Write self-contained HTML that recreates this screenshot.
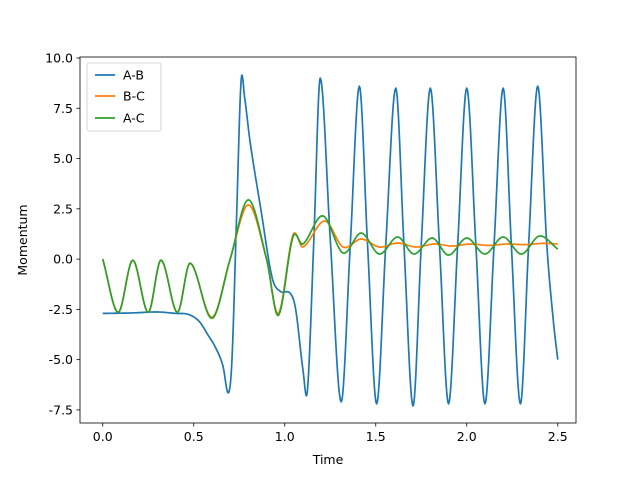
<!DOCTYPE html>
<html><head><meta charset="utf-8"><style>
html,body{margin:0;padding:0;background:#fff;}
svg text{font-family:"DejaVu Sans","Liberation Sans",sans-serif;font-size:12.5px;fill:#000;}
</style></head><body>
<svg id="s" width="640" height="476" viewBox="0 0 640 476" xmlns="http://www.w3.org/2000/svg">
<rect width="640" height="476" fill="#fff"/>
<g id="ticks"></g>
<g id="lines" fill="none" stroke-width="1.7" stroke-linejoin="round"></g>
<rect x="80" y="57" width="496" height="366" fill="none" stroke="#000" stroke-width="0.8"/>
<text x="328" y="464" text-anchor="middle">Time</text>
<text transform="translate(27,240) rotate(-90)" text-anchor="middle">Momentum</text>
<rect x="87" y="63" width="74" height="68" rx="2" fill="#fff" fill-opacity="0.8" stroke="#ccc" stroke-width="0.8"/>
<line x1="95" y1="75" x2="115" y2="75" stroke="#1f77b4" stroke-width="1.7"/>
<line x1="95" y1="96" x2="115" y2="96" stroke="#ff7f0e" stroke-width="1.7"/>
<line x1="95" y1="118" x2="115" y2="118" stroke="#2ca02c" stroke-width="1.7"/>
<text x="123" y="79.5">A-B</text>
<text x="123" y="100.5">B-C</text>
<text x="123" y="122.5">A-C</text>
</svg>
<script>
var X=function(t){return 102.75+t*182;},Y=function(v){return 259.1-v*20.11;};
var NS="http://www.w3.org/2000/svg";
var tk=document.getElementById("ticks");
function el(n,a,txt){var e=document.createElementNS(NS,n);for(var k in a)e.setAttribute(k,a[k]);if(txt)e.textContent=txt;tk.appendChild(e);}
for(var i=0;i<=5;i++){var t=i*0.5,x=X(t);el("line",{x1:x,y1:423,x2:x,y2:426.5,stroke:"#000","stroke-width":0.8});el("text",{x:x,y:441,"text-anchor":"middle"},t.toFixed(1));}
for(var v=-7.5;v<=10;v+=2.5){var y=Y(v);el("line",{x1:76.5,y1:y,x2:80,y2:y,stroke:"#000","stroke-width":0.8});el("text",{x:73,y:y+4.5,"text-anchor":"end"},v.toFixed(1));}
function path(p,col){
 var d="";var n=p.length;
 function m(i){var a=p[Math.max(0,i-1)],b=p[Math.min(n-1,i+1)];return (b[1]-a[1])/(b[0]-a[0]);}
 for(var i=0;i<n-1;i++){var t0=p[i][0],t1=p[i+1][0],h=t1-t0,y0=p[i][1],y1=p[i+1][1],m0=m(i),m1=m(i+1);
  for(var k=0;k<=12;k++){if(i>0&&k==0)continue;var s=k/12,s2=s*s,s3=s2*s;
   var v=(2*s3-3*s2+1)*y0+(s3-2*s2+s)*h*m0+(-2*s3+3*s2)*y1+(s3-s2)*h*m1;
   d+=(d?"L":"M")+X(t0+s*h).toFixed(2)+","+Y(v).toFixed(2);}}
 var e=document.createElementNS(NS,"path");e.setAttribute("d",d);e.setAttribute("stroke",col);document.getElementById("lines").appendChild(e);}
var blue=[[0,-2.7],[0.15,-2.68],[0.3,-2.63],[0.4,-2.7],[0.47,-2.75],[0.53,-3.1],[0.58,-3.8],[0.62,-4.4],[0.66,-5.3],[0.69,-6.65],[0.71,-5],[0.735,2],[0.76,8.85],[0.78,8],[0.81,5.8],[0.87,2.4],[0.93,-0.9],[0.975,-1.6],[1.03,-1.7],[1.06,-2.5],[1.1,-5.5],[1.125,-6.5],[1.16,1],[1.195,9.0],[1.25,1],[1.31,-7.1],[1.36,0.7],[1.41,8.6],[1.455,0.7],[1.505,-7.2],[1.555,0.7],[1.61,8.5],[1.655,0.7],[1.705,-7.3],[1.75,0.7],[1.80,8.5],[1.85,0.7],[1.90,-7.2],[1.95,0.7],[2.0,8.5],[2.05,0.7],[2.1,-7.2],[2.15,0.7],[2.2,8.5],[2.245,0.7],[2.295,-7.2],[2.34,0.7],[2.39,8.6],[2.44,0.7],[2.475,-3],[2.5,-5.0]];
var orange=[[0,0],[0.085,-2.65],[0.165,-0.05],[0.25,-2.65],[0.32,-0.05],[0.41,-2.65],[0.48,-0.2],[0.6,-2.9],[0.7,0],[0.8,2.7],[0.9,0],[0.965,-2.7],[1.045,1.2],[1.1,0.6],[1.22,1.9],[1.32,0.6],[1.42,1.0],[1.52,0.6],[1.62,0.8],[1.72,0.6],[1.82,0.75],[1.92,0.65],[2.02,0.75],[2.12,0.68],[2.22,0.75],[2.32,0.72],[2.42,0.78],[2.5,0.75]];
var green=[[0,0],[0.085,-2.65],[0.165,-0.05],[0.25,-2.65],[0.32,-0.05],[0.41,-2.65],[0.48,-0.2],[0.6,-2.95],[0.7,0],[0.8,2.95],[0.9,0],[0.965,-2.8],[1.045,1.1],[1.1,0.75],[1.21,2.15],[1.32,0.3],[1.42,1.3],[1.52,0.25],[1.62,1.1],[1.71,0.25],[1.81,1.05],[1.9,0.2],[2.0,1.05],[2.1,0.25],[2.2,1.1],[2.3,0.25],[2.4,1.15],[2.5,0.5]];
path(blue,"#1f77b4");path(orange,"#ff7f0e");path(green,"#2ca02c");
</script>
</body></html>
